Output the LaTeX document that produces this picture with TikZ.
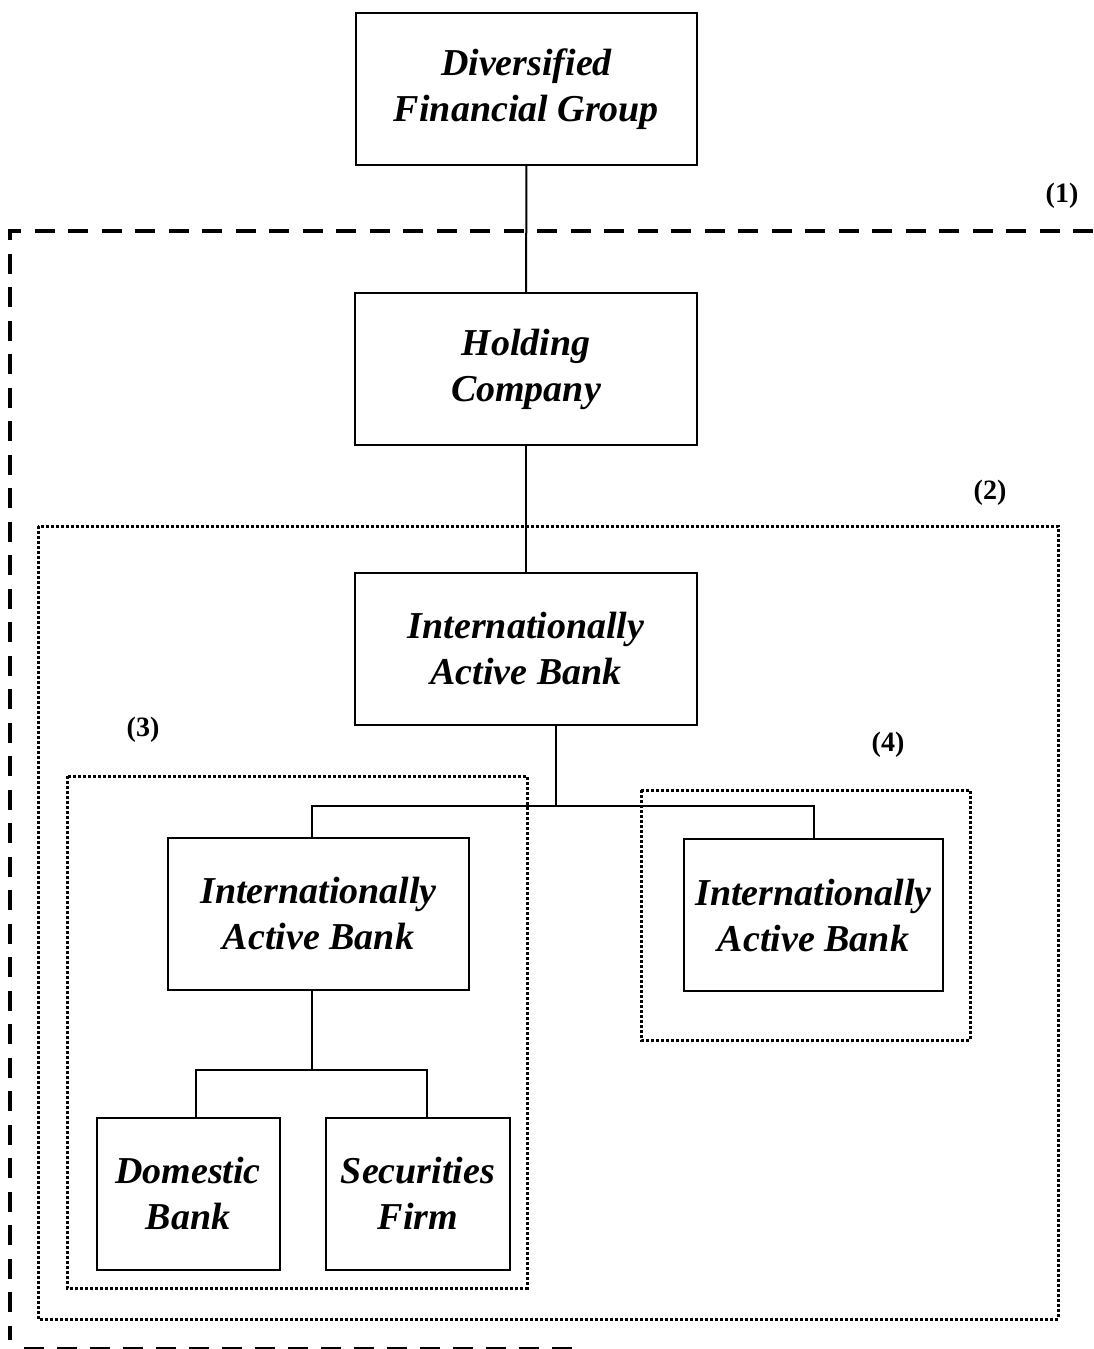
\documentclass[tikz,border=0pt]{standalone}
\usepackage{fontspec}
\setmainfont{Liberation Serif}
\begin{document}
\begin{tikzpicture}[x=1pt,y=-1pt]
\tikzstyle{entite}=[draw, line width=2pt, inner sep=0pt, minimum height=152pt, align=center, font=\fontsize{38}{46}\selectfont\bfseries\itshape];
\tikzstyle{lien}=[line width=2pt];
\tikzstyle{cadre}=[line width=3pt, dash pattern=on 3pt off 2pt];
\tikzstyle{numero}=[font=\fontsize{28}{32}\selectfont\bfseries];
\useasboundingbox (0,0) rectangle (1093,1349);

% perimetres
\draw[line width=4pt, dash pattern=on 20pt off 13.5pt] (1093,231) -- (10,231) -- (10,1340);
\draw[line width=2.5pt, dash pattern=on 20pt off 13pt] (24,1348) -- (580,1348);
\draw[cadre] (38,526) rectangle (1058,1319);
\draw[cadre] (67,776) rectangle (527,1288);
\draw[cadre] (641,790) rectangle (970,1040);

\node[numero] (n1) at (1062,196) {(1)};
\node[numero] (n2) at (990,493) {(2)};
\node[numero] (n3) at (143,730) {(3)};
\node[numero] (n4) at (888,745) {(4)};

% entites
\node[entite, minimum width=341pt] (dfg) at (526.5,89) {Diversified\\Financial Group};
\node[entite, minimum width=342pt] (hc) at (526,369) {Holding\\Company};
\node[entite, minimum width=342pt] (iab) at (526,649) {Internationally\\Active Bank};
\node[entite, minimum width=301pt] (iabg) at (318.5,913.5) {Internationally\\Active Bank};
\node[entite, minimum width=259pt] (iabd) at (813.5,915) {Internationally\\Active Bank};
\node[entite, minimum width=183pt] (dom) at (188,1193.5) {Domestic\\Bank};
\node[entite, minimum width=184pt] (sec) at (418,1193.5) {Securities\\Firm};

\coordinate (b1) at (556,806);
\coordinate (g1) at (312,806);
\coordinate (d1) at (814,806);
\coordinate (b2) at (312,1070);
\coordinate (g2) at (196,1070);
\coordinate (d2) at (427,1070);

\draw[lien] (dfg) -- (hc);
\draw[lien] (hc) -- (iab);
\draw[lien] (iab.south -| b1) -- (b1);
\draw[lien] (g1 |- iabg.north) -- (g1) -- (d1) -- (d1 |- iabd.north);
\draw[lien] (b2 |- iabg.south) -- (b2);
\draw[lien] (g2 |- dom.north) -- (g2) -- (d2) -- (d2 |- sec.north);
\end{tikzpicture}
\end{document}
